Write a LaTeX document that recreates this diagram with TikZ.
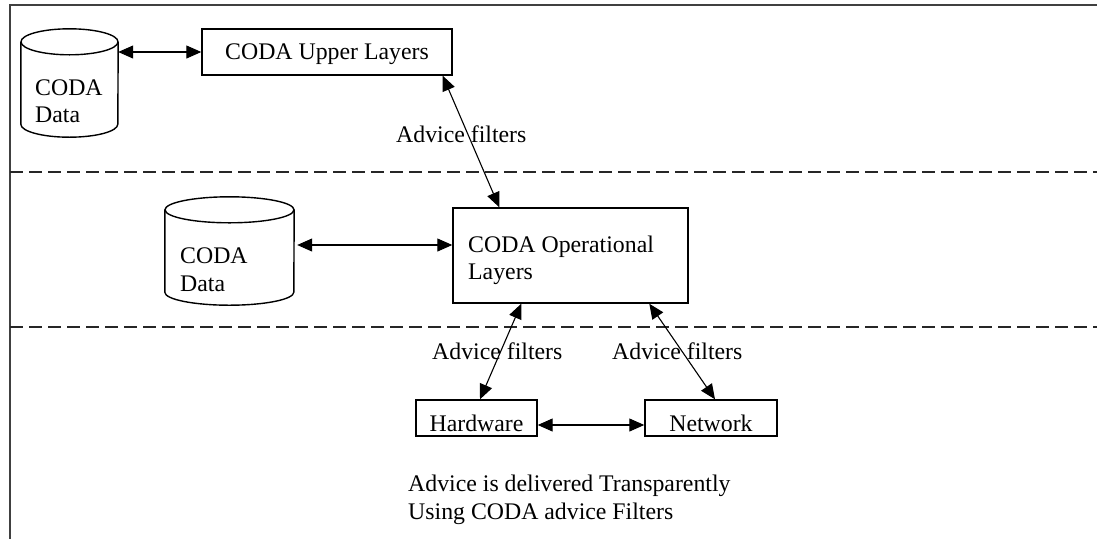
\documentclass[tikz,border=0pt]{standalone}
\usepackage{fontspec}
\setmainfont{Liberation Serif}
\usetikzlibrary{arrows.meta,calc}

% outline of a storage drum drawn around an (invisible) node
\newcommand\drum[2]{%
  \draw[outline] ($(#1.north)+(0,13)$) ellipse [x radius=#2pt, y radius=13pt];
  \draw[outline] ($(#1.north west)+(0,13)$) -- ($(#1.south west)+(0,-13)$)
    arc[start angle=180, end angle=360, x radius=#2pt, y radius=13pt]
    -- ($(#1.north east)+(0,13)$);
}

\begin{document}
\begin{tikzpicture}[x=1pt, y=-1pt,
  every node/.style={font=\fontsize{23.8}{28}\selectfont, inner sep=0pt},
  outline/.style={line width=1.4pt, black},
  box/.style={draw, outline, text height=#1, text depth=0pt},
  box/.default=15.5pt,
  txt/.style={anchor=base west},
  link/.style={line width=1.1pt,
    arrows={Triangle[length=15pt,width=13pt]-Triangle[length=15pt,width=13pt]}},
  divider/.style={line width=1.4pt, black!85, dash pattern=on 13pt off 6pt}]
\useasboundingbox (0,0) rectangle (1097,539);

% frame and tier dividers
\draw[line width=2pt, black!75] (1097,5) -- (10,5) -- (10,539);
\draw[divider] (10,172) -- (1097,172);
\draw[divider] (10,327) -- (1097,327);

% data stores
\node[minimum width=97pt, minimum height=108pt] (db1) at (69.5,83) {};
\drum{db1}{48.5}
\node[txt] (db1a) at (35,95) {CODA};
\node[txt] (db1b) at (35,122) {Data};

\node[minimum width=129pt, minimum height=108pt] (db2) at (229.5,251) {};
\drum{db2}{64.5}
\node[txt] (db2a) at (180,263) {CODA};
\node[txt] (db2b) at (180,291) {Data};

% layers
\node[box, minimum width=250pt, minimum height=46pt] (up) at (327,52) {CODA Upper Layers};
\node[box, minimum width=235pt, minimum height=95pt] (op) at (570.5,255.5) {};
\node[txt] (opa) at (468,252) {CODA Operational};
\node[txt] (opb) at (468,279) {Layers};

\node[box=26pt, minimum width=121pt, minimum height=36pt] (hw) at (476.5,418) {Hardware};
\node[box=26pt, minimum width=132pt, minimum height=36pt] (net) at (711,418) {Network};

% connections
\draw[link] (db1.east |- up.west) -- (up.west);
\draw[link] ($(up.south east)+(-10,0)$) -- ($(op.north west)+(47,0)$);
\draw[link] ($(db2.east |- op.west)+(3,-10.5)$) -- ($(op.west)+(0,-10.5)$);
\draw[link] ($(op.south west)+(69,0)$) -- ($(hw.north)+(3.5,0)$);
\draw[link] ($(op.south west)+(197,0)$) -- ($(net.north)+(4,0)$);
\draw[link] ($(hw.east)+(0,7)$) -- ($(net.west)+(0,7)$);

% labels
\node[txt] (f1) at (396,142) {Advice filters};
\node[txt] (f2) at (432,359) {Advice filters};
\node[txt] (f3) at (612,359) {Advice filters};
\node[txt] (n1) at (408,491) {Advice is delivered Transparently};
\node[txt] (n2) at (408,519) {Using CODA advice Filters};
\end{tikzpicture}
\end{document}
